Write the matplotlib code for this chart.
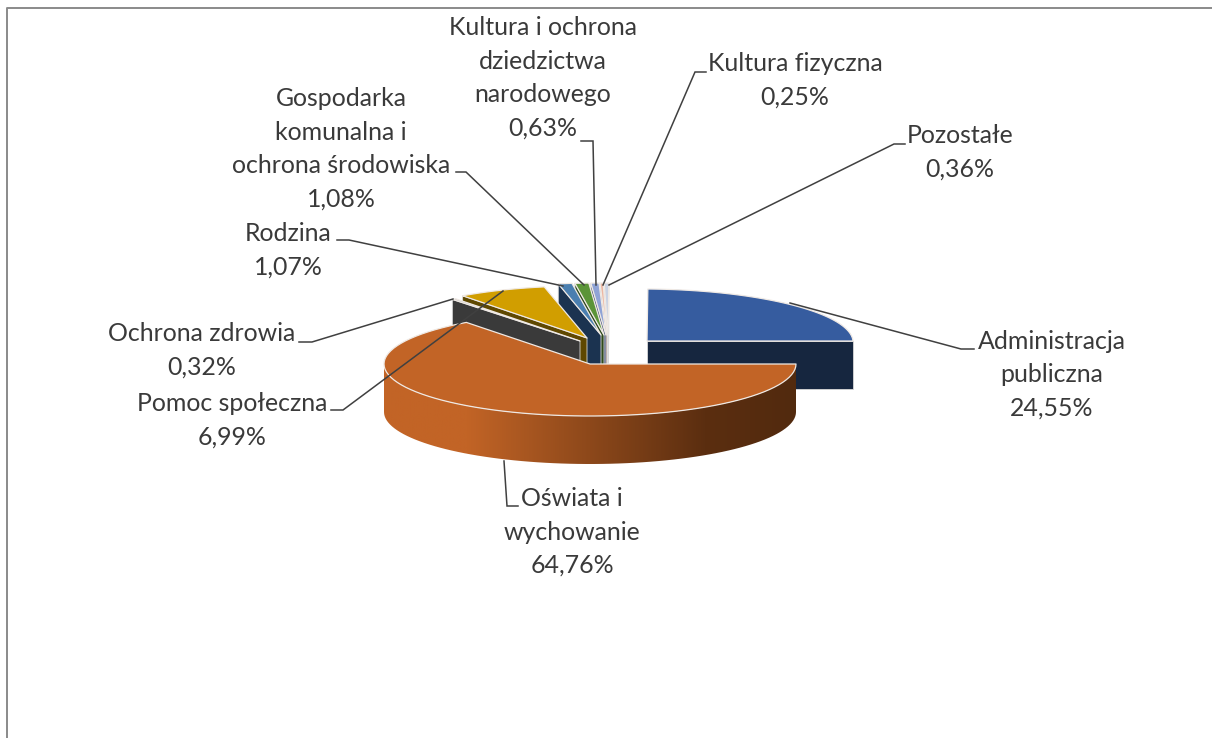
import numpy as np
import matplotlib
matplotlib.use("Agg")
import matplotlib.pyplot as plt
from matplotlib.patches import Polygon
from matplotlib.colors import LinearSegmentedColormap

# ---- data -------------------------------------------------------------
names = ["Oświata i\nwychowanie", "Ochrona zdrowia", "Pomoc społeczna", "Rodzina",
         "Gospodarka\nkomunalna i\nochrona środowiska",
         "Kultura i ochrona\ndziedzictwa\nnarodowego", "Kultura fizyczna",
         "Pozostałe", "Administracja\npubliczna"]
values = [64.76, 0.32, 6.99, 1.07, 1.08, 0.63, 0.25, 0.36, 24.55]

# ---- layout / style ---------------------------------------------------
top_colors = ["#C26426", "#B9B9B9", "#D19E00", "#4A7FB0", "#5B9438", "#8FA3D6", "#EDB7A2", "#C9D2E3", "#365C9F"]
side_colors = ["#522A0E", "#3A3A3A", "#5F4800", "#1B3350", "#2E4A1C", "#47547A", "#8A6050", "#8A909C", "#16263F"]
apex = [(590, 364), (580, 341), (587, 338), (601, 335), (604, 335), (606, 335), (607, 335), (608, 335), (647, 341)]
shear = [0, 5, 5, 5, 5, 5, 5, 5, 5]
RX, RY, DEPTH = 206, 52, 48
label_pos = [(572, 532), (202, 350), (232, 420), (288, 250), (341, 149), (543, 78), (795, 80), (960, 152), (1052, 375)]
leaders = [[(504, 461), (507, 506), (518, 506)],
           [(453, 299), (312, 342), (299, 342)],
           [(503, 291), (343, 410), (331, 410)],
           [(563, 286), (349, 240), (337, 240)],
           [(584, 285), (466, 172), (456, 172)],
           [(596, 285), (593, 141), (581, 141)],
           [(603, 285), (695, 72), (706, 72)],
           [(609, 285), (894, 144), (905, 144)],
           [(790, 303), (961, 349), (974, 349)]]
INK = "#3A3A3A"
plt.rcParams["font.family"] = ["Lato", "DejaVu Sans"]

fig = plt.figure(figsize=(12.12, 7.38), dpi=100)
ax = fig.add_axes([0, 0, 1, 1])
ax.set_xlim(0, 1212)
ax.set_ylim(738, 0)
ax.axis("off")

ax.plot([6.5, 6.5, 1212], [738, 8, 8], color="#8A8A8A", lw=1.4, zorder=1, solid_capstyle="butt")


def arc(a, t0, t1, s=0, n=80):
    t = np.radians(np.linspace(t0, t1, n))
    return np.column_stack([a[0] + RX * np.cos(t) - s * np.sin(t), a[1] - RY * np.sin(t)])


# angles: first slice starts due east, slices run clockwise
fractions = np.array(values) / sum(values) * 360
ends = np.cumsum(fractions)
starts = ends - fractions
down = np.array([0, DEPTH])
order = list(range(len(values) - 1, -1, -1))
z = 2
for i in order:
    hi, lo = -starts[i], -ends[i]  # math angles
    a = np.array(apex[i], float)
    s = shear[i]
    # cut faces: visible only if the outward normal faces the viewer
    for edge, normal in ((lo, lo - 90), (hi, hi + 90)):
        if np.sin(np.radians(normal)) < 0:
            p = arc(a, edge, edge, s, 1)[0]
            poly = [a, p, p + down, a + down]
            ax.add_patch(Polygon(poly, closed=True, fc=side_colors[i], ec="#D8D8D8", lw=0.6, zorder=z))
            z += 1
    # outer wall, for the front half of the ellipse
    w0, w1 = max(lo, -180), min(hi, 0)
    if w1 > w0:
        rim = arc(a, w0, w1, s)
        wall = np.vstack([rim, (rim + down)[::-1]])
        if i == 0:
            cmap = LinearSegmentedColormap.from_list(
                "w", [(0, top_colors[0]), (0.2, top_colors[0]), (0.78, "#5B2E10"), (1, side_colors[0])])
            clip = Polygon(wall, closed=True, fc="none", ec="none", transform=ax.transData)
            ax.add_patch(clip)
            im = ax.imshow(np.linspace(0, 1, 512)[None, :], cmap=cmap, aspect="auto", zorder=z,
                           extent=[rim[:, 0].min(), rim[:, 0].max(), rim[:, 1].max() + DEPTH, rim[:, 1].min()])
            im.set_clip_path(clip)
            ax.set_xlim(0, 1212)
            ax.set_ylim(738, 0)
        else:
            ax.add_patch(Polygon(wall, closed=True, fc=side_colors[i], ec="none", zorder=z))
        z += 1
    top = np.vstack([a, arc(a, lo, hi, s)])
    ax.add_patch(Polygon(top, closed=True, fc=top_colors[i], ec="#EFE9E4", lw=0.9, zorder=z, joinstyle="round"))
    z += 1

for pts in leaders:
    xs, ys = zip(*pts)
    ax.plot(xs, ys, color="#404040", lw=1.1, zorder=z, solid_joinstyle="miter")

for name, val, (x, y) in zip(names, values, label_pos):
    txt = name + "\n" + f"{val:.2f}%".replace(".", ",")
    ax.text(x, y, txt, ha="center", va="center", ma="center", fontsize=17.9, color=INK,
            linespacing=1.55, zorder=z + 1)

fig.savefig("out.png", dpi=100, facecolor="white")
